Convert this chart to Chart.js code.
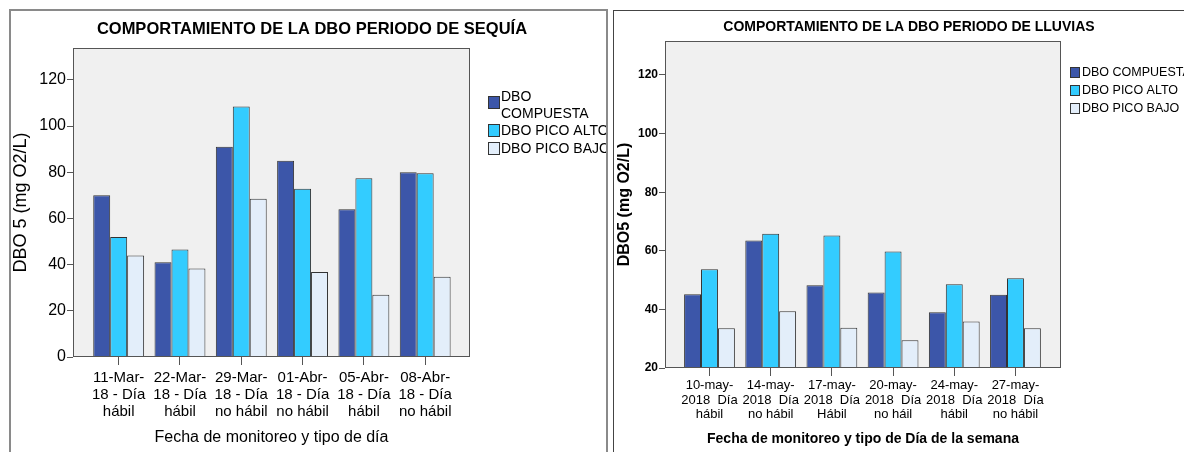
<!DOCTYPE html>
<html>
<head>
<meta charset="utf-8">
<script src="https://cdn.jsdelivr.net/npm/chart.js@4.4.1/dist/chart.umd.min.js"></script>
<style>
  html, body { margin: 0; padding: 0; background: #fff; width: 1184px; height: 452px; overflow: hidden; }
  canvas { position: absolute; top: 0; }
  #sequia { left: 0; }
  #lluvias { left: 610px; }
  .panel { position: absolute; box-sizing: border-box; pointer-events: none; }
  #marco1 { left: 9px; top: 9px; width: 599px; height: 470px; border: 2px solid #8a8a8a; }
  #marco2 { left: 613px; top: 10px; width: 600px; height: 470px; border: 1.5px solid #444; }
</style>
</head>
<body>
<canvas id="sequia" width="610" height="452"></canvas>
<canvas id="lluvias" width="574" height="452"></canvas>
<div class="panel" id="marco1"></div>
<div class="panel" id="marco2"></div>
<script>
// Series
const seriesNames = ["DBO COMPUESTA", "DBO PICO ALTO", "DBO PICO BAJO"];
const seriesColors = ["#3C56A9", "#33CCFF", "#E3EEFA"];

// Periodo de sequía
const sequiaFechas = [
  ["11-Mar-", "18 - Día", "hábil"],
  ["22-Mar-", "18 - Día", "hábil"],
  ["29-Mar-", "18 - Día", "no hábil"],
  ["01-Abr-", "18 - Día", "no hábil"],
  ["05-Abr-", "18 - Día", "hábil"],
  ["08-Abr-", "18 - Día", "no hábil"],
];
const sequiaCompuesta = [70, 41, 91, 85, 64, 80];
const sequiaPicoAlto = [52, 46.5, 108.5, 72.8, 77.4, 79.6];
const sequiaPicoBajo = [44, 38.3, 68.5, 36.8, 27, 34.7];

// Periodo de lluvias
const lluviasFechas = [
  ["10-may-", "2018  Día", "hábil"],
  ["14-may-", "2018  Día", "no hábil"],
  ["17-may-", "2018  Día", "Hábil"],
  ["20-may-", "2018  Día", "no háil"],
  ["24-may-", "2018  Día", "hábil"],
  ["27-may-", "2018  Día", "no hábil"],
];
const lluviasCompuesta = [45.2, 63.5, 48.2, 45.8, 39, 45];
const lluviasPicoAlto = [53.7, 65.8, 65.2, 59.8, 48.6, 50.6];
const lluviasPicoBajo = [33.6, 39.4, 33.7, 29.5, 35.9, 33.6];

const FONT = "'Liberation Sans', Arial, sans-serif";

// fondo gris del area, marco, titulo y leyenda
const panelPlugin = {
  id: "panel",
  beforeDraw(chart) {
    const { ctx, chartArea: a } = chart;
    ctx.save();
    ctx.fillStyle = "#F0F0F0";
    ctx.fillRect(a.left, a.top, a.right - a.left, a.bottom - a.top);
    ctx.restore();
  },
  afterDraw(chart, args, o) {
    const { ctx, chartArea: a } = chart;
    ctx.save();
    ctx.strokeStyle = "#555";
    ctx.lineWidth = 1;
    ctx.strokeRect(a.left + 0.5, a.top + 0.5, a.right - a.left - 1, a.bottom - a.top - 1);

    ctx.fillStyle = "#000";
    ctx.font = o.titleFont;
    ctx.textAlign = "center";
    ctx.textBaseline = "middle";
    ctx.fillText(o.title, o.titleX, o.titleY);

    ctx.beginPath();
    ctx.rect(0, 0, o.clipRight, chart.height);
    ctx.clip();
    ctx.font = o.legendFont;
    ctx.textAlign = "left";
    chart.data.datasets.forEach((ds, i) => {
      const top = o.boxTops[i];
      ctx.fillStyle = ds.backgroundColor;
      ctx.fillRect(o.boxX, top, o.boxW, o.boxH);
      ctx.strokeStyle = "#333";
      ctx.strokeRect(o.boxX + 0.5, top + 0.5, o.boxW - 1, o.boxH - 1);
      ctx.fillStyle = "#000";
      o.legendLines[i].forEach((t, j) => ctx.fillText(t, o.textX, o.textYs[i] + j * o.lineH));
    });
    ctx.restore();
  },
};

function buildChart(canvasId, fechas, values, opt) {
  return new Chart(document.getElementById(canvasId), {
    type: "bar",
    data: {
      datasets: values.map((vals, i) => ({
        label: seriesNames[i],
        data: vals.map((v, j) => ({ x: j, y: v })),
        backgroundColor: seriesColors[i],
        borderColor: "#333",
        borderWidth: 1,
        categoryPercentage: 0.83,
        barPercentage: 1,
      })),
    },
    options: {
      responsive: false,
      animation: false,
      layout: { padding: { left: 0, top: opt.top, right: opt.right, bottom: 0 } },
      plugins: {
        legend: { display: false },
        tooltip: { enabled: false },
        panel: opt.panel,
      },
      scales: {
        x: {
          type: "linear",
          min: opt.xMin,
          max: opt.xMax,
          offset: false,
          afterFit: (s) => { s.height = opt.xHeight; },
          afterBuildTicks: (s) => { s.ticks = fechas.map((_, j) => ({ value: j })); },
          grid: { drawOnChartArea: false, drawTicks: true, tickLength: 8, color: "#555", offset: false },
          border: { display: false },
          ticks: {
            autoSkip: false,
            maxRotation: 0,
            minRotation: 0,
            padding: opt.xTickPad,
            color: "#000",
            font: opt.xTickFont,
            callback: (v) => fechas[v],
          },
          title: {
            display: true,
            text: opt.xTitle,
            color: "#000",
            font: opt.xTitleFont,
            padding: { top: 0, bottom: opt.xTitlePad },
          },
        },
        y: {
          min: opt.yMin,
          max: opt.yMax,
          afterFit: (s) => { s.width = opt.yWidth; },
          grid: { drawOnChartArea: false, tickLength: 6, color: "#555" },
          border: { display: false },
          ticks: { stepSize: 20, includeBounds: false, padding: 1, color: "#000", font: opt.yTickFont },
          title: {
            display: true,
            text: opt.yTitle,
            color: "#000",
            font: opt.yTitleFont,
            padding: { top: opt.yTitlePad, bottom: 0 },
          },
        },
      },
    },
    plugins: [panelPlugin],
  });
}

buildChart("sequia", sequiaFechas, [sequiaCompuesta, sequiaPicoAlto, sequiaPicoBajo], {
  top: 48, right: 140, xHeight: 95, yWidth: 73,
  xMin: -0.745, xMax: 5.731, yMin: 0, yMax: 133.8,
  xTickPad: 4, xTickFont: { family: FONT, size: 15, lineHeight: 1.13 },
  xTitle: "Fecha de monitoreo y tipo de día", xTitleFont: { family: FONT, size: 16 }, xTitlePad: 5,
  yTickFont: { family: FONT, size: 16 },
  yTitle: "DBO 5 (mg O2/L)", yTitleFont: { family: FONT, size: 18 }, yTitlePad: 10,
  panel: {
    title: "COMPORTAMIENTO DE LA DBO PERIODO DE SEQUÍA",
    titleFont: "bold 16.5px " + FONT, titleX: 312, titleY: 29,
    legendFont: "14px " + FONT, clipRight: 606,
    boxX: 488, boxW: 12, boxH: 13, boxTops: [96, 124, 142],
    textX: 501, textYs: [97.5, 131, 149], lineH: 16.5,
    legendLines: [["DBO", "COMPUESTA"], ["DBO PICO ALTO"], ["DBO PICO BAJO"]],
  },
});

buildChart("lluvias", lluviasFechas, [lluviasCompuesta, lluviasPicoAlto, lluviasPicoBajo], {
  top: 41, right: 123, xHeight: 84, yWidth: 55,
  xMin: -0.727, xMax: 5.744, yMin: 20, yMax: 131.6,
  xTickPad: 1.5, xTickFont: { family: FONT, size: 13, lineHeight: 1.15 },
  xTitle: "Fecha de monitoreo y tipo de Día de la semana", xTitleFont: { family: FONT, size: 14, weight: "bold" }, xTitlePad: 4,
  yTickFont: { family: FONT, size: 12, weight: "bold" },
  yTitle: "DBO5 (mg O2/L)", yTitleFont: { family: FONT, size: 16, weight: "bold" }, yTitlePad: 5,
  panel: {
    title: "COMPORTAMIENTO DE LA DBO PERIODO DE LLUVIAS",
    titleFont: "bold 14px " + FONT, titleX: 299, titleY: 27,
    legendFont: "12.5px " + FONT, clipRight: 574,
    boxX: 460, boxW: 10, boxH: 11, boxTops: [67, 85, 103],
    textX: 472, textYs: [72.5, 90.5, 108.5], lineH: 15,
    legendLines: [["DBO COMPUESTA"], ["DBO PICO ALTO"], ["DBO PICO BAJO"]],
  },
});
</script>
</body>
</html>
